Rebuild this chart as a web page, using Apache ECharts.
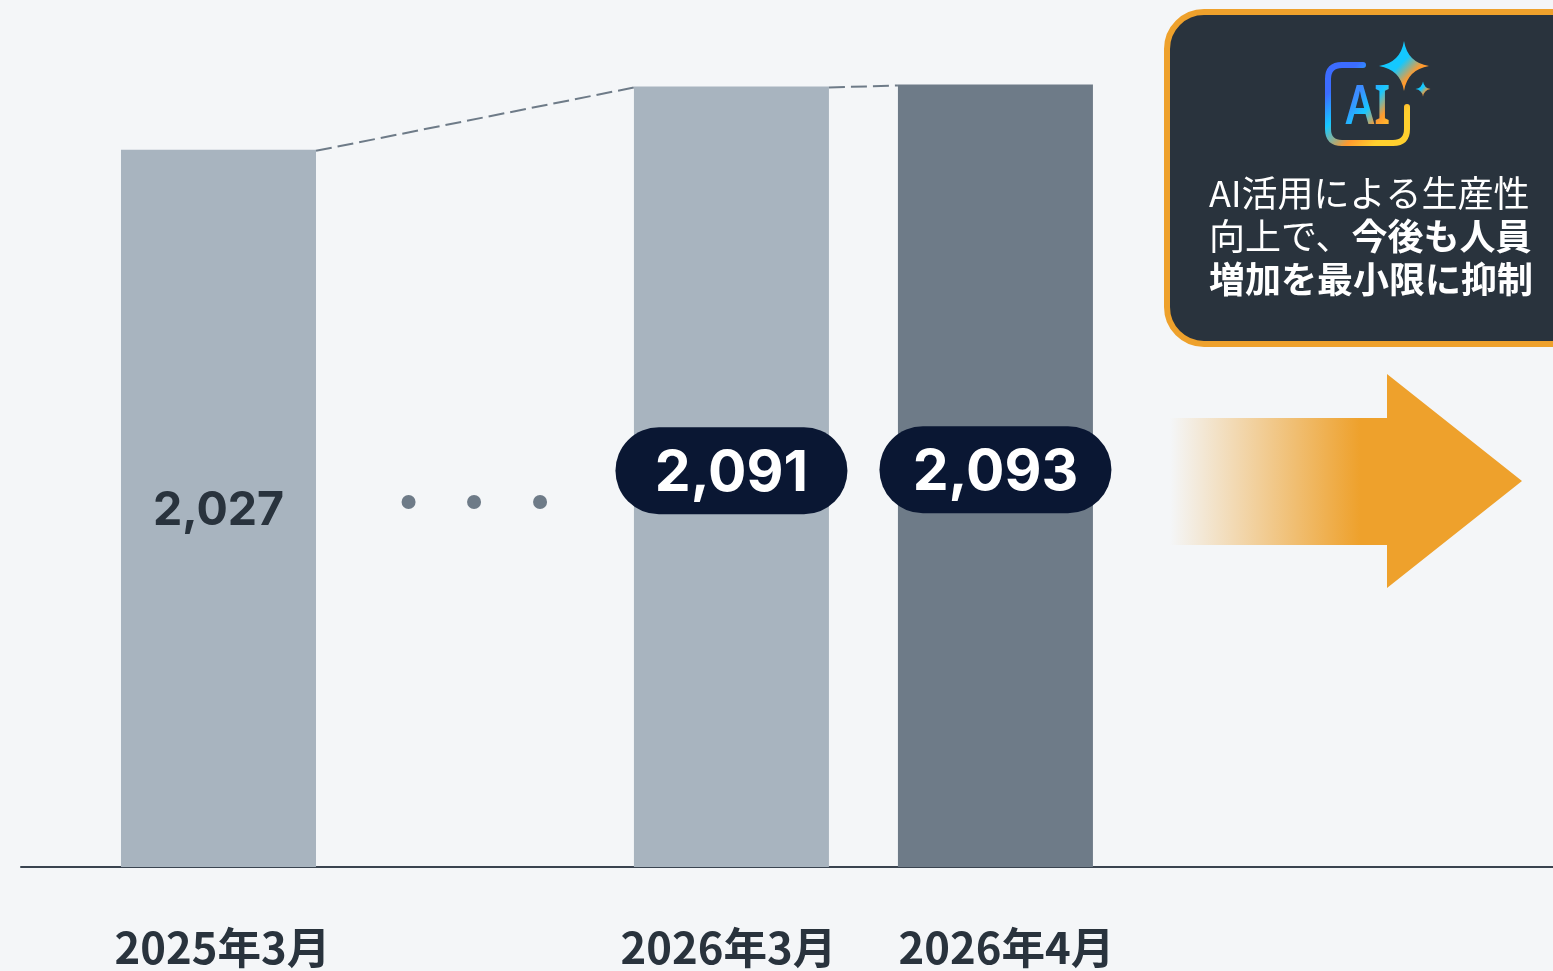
<!DOCTYPE html>
<html lang="ja">
<head>
<meta charset="utf-8">
<title>人員推移</title>
<script src="https://cdn.jsdelivr.net/npm/echarts@6/dist/echarts.min.js"></script>
<style>
  html, body { margin: 0; padding: 0; background: #f4f6f8; }
  #chart { width: 1553px; height: 971px; }
</style>
</head>
<body>
<div id="chart"></div>
<script>
// Headcount at each reporting date
const categories = ['2025年3月', '2026年3月', '2026年4月'];
const headcount = [2027, 2091, 2093];
// Horizontal placement along the time strip, in bar-pitch units
const barPositions = [0, 1.943, 2.943];
const labelPositions = [0.0152, 1.9316, 2.9846];
// The ellipsis between the first and second bars
const gapDotPositions = [0.72, 0.968, 1.218];
const gapDotLevel = [1671.3];

const BAR_LIGHT = '#a8b4bf';
const BAR_DARK = '#6e7b88';
const INK = '#29333d';
const NAVY = '#0a1733';
const AMBER = '#eea12c';
const BAR_WIDTH = 195;

const bars = headcount.map((v, i) => ({
  value: [barPositions[i], v],
  itemStyle: { color: i === 2 ? BAR_DARK : BAR_LIGHT },
  label: i === 0
    ? { fontFamily: 'Inter', fontWeight: 700, fontSize: 46.5, color: INK, offset: [0, 2.5] }
    : { offset: [0, -6] }
}));

const iconGradient = {
  type: 'linear', global: true, x: 1330, y: 70, x2: 1400, y2: 140,
  colorStops: [
    { offset: 0.15, color: '#3c6cff' },
    { offset: 0.38, color: '#17c8ff' },
    { offset: 0.65, color: '#ff9a2e' },
    { offset: 0.85, color: '#ffd02e' }
  ]
};
// Canvas text only accepts string fills and otherwise keeps the context's current
// fill, so the letters pick up this gradient from the empty path drawn just before
// them. Its coordinates are in the letters' own space.
const letterGradient = {
  type: 'linear', global: true, x: 12, y: 16, x2: 44, y2: 50,
  colorStops: [
    { offset: 0, color: '#3c8cff' },
    { offset: 0.42, color: '#17c8ff' },
    { offset: 0.8, color: '#ff9a2e' },
    { offset: 1, color: '#ffb52e' }
  ]
};
const inheritedFill = document.createElement('canvas').getContext('2d').createLinearGradient(0, 0, 1, 1);
const sparkGradient = (x, y, x2, y2) => ({
  type: 'linear', global: true, x, y, x2, y2,
  colorStops: [
    { offset: 0.4, color: '#14c8ff' },
    { offset: 0.8, color: '#ff9a2e' }
  ]
});
const sparkle = (cx, cy, r) => {
  const k = r * 0.14;
  return `M${cx} ${cy - r}Q${cx + k} ${cy - k} ${cx + r} ${cy}Q${cx + k} ${cy + k} ${cx} ${cy + r}` +
         `Q${cx - k} ${cy + k} ${cx - r} ${cy}Q${cx - k} ${cy - k} ${cx} ${cy - r}Z`;
};

const chart = echarts.init(document.getElementById('chart'), null, { renderer: 'canvas' });
chart.setOption({
  animation: false,
  backgroundColor: '#f4f6f8',
  grid: { left: 21, right: 0, top: 0, bottom: 104 },
  xAxis: {
    type: 'value', min: -0.7481, max: 5.055,
    splitLine: { show: false },
    axisTick: { show: false },
    axisLine: { show: true, onZero: false, lineStyle: { color: '#3a4450', width: 2 } },
    axisLabel: {
      customValues: labelPositions,
      formatter: (v) => categories[labelPositions.indexOf(v)],
      fontFamily: 'Noto Sans CJK JP', fontWeight: 700, fontSize: 43.6, color: INK,
      margin: 59, hideOverlap: false
    }
  },
  yAxis: { type: 'value', min: 1302.6, max: 2178.36, show: false, splitLine: { show: false } },
  series: [
    {
      type: 'bar', barWidth: BAR_WIDTH, data: bars, z: 2,
      label: {
        show: true, position: 'inside',
        formatter: (p) => {
          const text = p.value[1].toLocaleString('en-US');
          return p.dataIndex === 0 ? text : `{pill|${text}}`;
        },
        rich: {
          pill: {
            fontFamily: 'Inter', fontWeight: 700, fontSize: 57, color: '#fff',
            backgroundColor: NAVY, borderRadius: 44, width: 232, align: 'center',
            padding: [18, 0, 12, 0]
          }
        }
      }
    },
    {
      // Dashed connectors running between neighbouring bar tops
      type: 'custom', z: 3, silent: true,
      data: headcount.slice(1).map((v, i) => [barPositions[i], headcount[i], barPositions[i + 1], v]),
      renderItem: (params, api) => {
        const a = api.coord([api.value(0), api.value(1)]);
        const b = api.coord([api.value(2), api.value(3)]);
        return {
          type: 'line',
          shape: { x1: a[0] + BAR_WIDTH / 2, y1: a[1] + 1, x2: b[0] - BAR_WIDTH / 2, y2: b[1] + 1 },
          style: { stroke: BAR_DARK, lineWidth: 2, lineDash: [16, 6] }
        };
      }
    },
    {
      type: 'scatter', symbol: 'circle', symbolSize: 14, z: 3, silent: true,
      itemStyle: { color: BAR_DARK, opacity: 1 },
      data: gapDotPositions.map((x) => [x, gapDotLevel[0]])
    },
    {
      // AI badge inside the callout: bracket outline, two sparkles and the letters
      type: 'custom', coordinateSystem: 'none', z: 20, silent: true, data: [0],
      renderItem: () => ({
        type: 'group',
        children: [
          {
            type: 'path',
            shape: { pathData: 'M1363 65H1342Q1328 65 1328 79V129Q1328 143 1342 143H1393Q1407 143 1407 129V107' },
            style: { fill: 'none', stroke: iconGradient, lineWidth: 6, lineCap: 'round' }
          },
          {
            type: 'path',
            shape: { pathData: sparkle(1404, 66, 25) },
            style: { fill: sparkGradient(1390, 52, 1418, 80) }
          },
          {
            type: 'path',
            shape: { pathData: sparkle(1423, 89, 7.5) },
            style: { fill: sparkGradient(1418, 84, 1428, 94) }
          },
          {
            type: 'path',
            shape: { pathData: 'M0 0L0 0Z' },
            style: { fill: letterGradient }
          },
          {
            type: 'text', x: 1345.5, y: 81, scaleX: 0.78, scaleY: 1,
            style: {
              text: 'AI', fill: inheritedFill,
              fontFamily: 'Noto Sans', fontWeight: 600, fontSize: 55
            }
          }
        ]
      })
    }
  ],
  graphic: [
    {
      type: 'polygon', z: 5,
      shape: { points: [[1170, 418], [1387, 418], [1387, 374], [1522, 481], [1387, 588], [1387, 545], [1170, 545]] },
      style: {
        fill: {
          type: 'linear', global: true, x: 1170, y: 0, x2: 1360, y2: 0,
          colorStops: [
            { offset: 0, color: 'rgba(238,161,44,0)' },
            { offset: 1, color: AMBER }
          ]
        }
      }
    },
    {
      type: 'rect', z: 5,
      shape: { x: 1167, y: 12, width: 421, height: 332, r: 37 },
      style: { fill: INK, stroke: AMBER, lineWidth: 6 }
    },
    {
      type: 'text', z: 6, left: 1209, top: 172,
      style: {
        text: 'AI活用による生産性\n向上で、{b|今後も人員}\n{b|増加を最小限に抑制}',
        fill: '#fff', fontFamily: 'Noto Sans CJK JP', fontSize: 36, lineHeight: 43,
        rich: {
          b: { fill: '#fff', fontFamily: 'Noto Sans CJK JP', fontSize: 36, fontWeight: 700, lineHeight: 43 }
        }
      }
    }
  ]
});
</script>
</body>
</html>
